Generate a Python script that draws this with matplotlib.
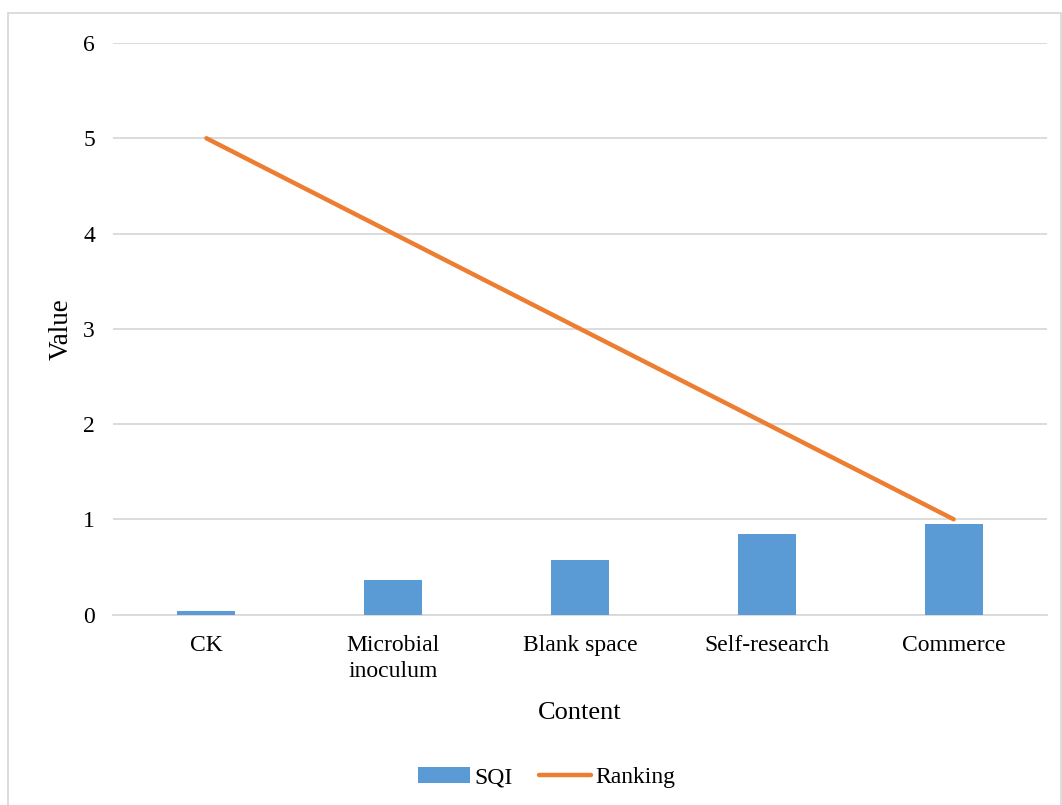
import matplotlib
matplotlib.use("Agg")
import matplotlib.pyplot as plt
from matplotlib.patches import Rectangle
import numpy as np

categories = ["CK", "Microbial\ninoculum", "Blank space", "Self-research", "Commerce"]
sqi = [0.04, 0.36, 0.57, 0.85, 0.95]
ranking = [5, 4, 3, 2, 1]
y_ticks = [0, 1, 2, 3, 4, 5, 6]

plt.rcParams["font.family"] = ["Liberation Serif", "DejaVu Serif"]

fig = plt.figure(figsize=(10.62, 8.05), dpi=100)
ax = fig.add_axes([0.1064, 0.2366, 0.8795, 0.71])

x = np.arange(len(categories))
bars = ax.bar(x, sqi, width=0.31, color="#5B9BD5", label="SQI", zorder=3)
line, = ax.plot(x, ranking, color="#ED7D31", linewidth=3.2, solid_capstyle="round",
                label="Ranking", zorder=4)

ax.set_xlim(-0.5, len(categories) - 0.5)
ax.set_ylim(0, 6)
ax.set_yticks(y_ticks)
ax.set_xticks(x)
ax.set_xticklabels(categories, fontsize=17, linespacing=1.3)
ax.tick_params(axis="y", labelsize=17, length=0, pad=13)
ax.tick_params(axis="x", length=0, pad=15)
for t in ax.get_xticklabels():
    t.set_verticalalignment("top")

ax.grid(axis="y", color="#D9D9D9", linewidth=1.3, zorder=0)
for side in ("top", "right", "left"):
    ax.spines[side].set_visible(False)
ax.spines["bottom"].set_color("#D9D9D9")
ax.spines["bottom"].set_linewidth(1.3)

ax.set_xlabel("Content", fontsize=19, labelpad=14)
ax.set_ylabel("Value", fontsize=19.5, labelpad=7)

fig.legend(handles=[bars, line], labels=["SQI", "Ranking"], loc="center",
           bbox_to_anchor=(0.515, 0.034), ncol=2, frameon=False,
           fontsize=17, handlelength=2.2, handletextpad=0.2, columnspacing=1.1)

# light frame around the chart
fig.patches.append(Rectangle((8 / 1062, -0.01), (1061 - 8) / 1062, 1 - 13 / 805 + 0.01,
                             transform=fig.transFigure, fill=False,
                             edgecolor="#D9D9D9", linewidth=1.3))

fig.savefig("out.png", dpi=100)
